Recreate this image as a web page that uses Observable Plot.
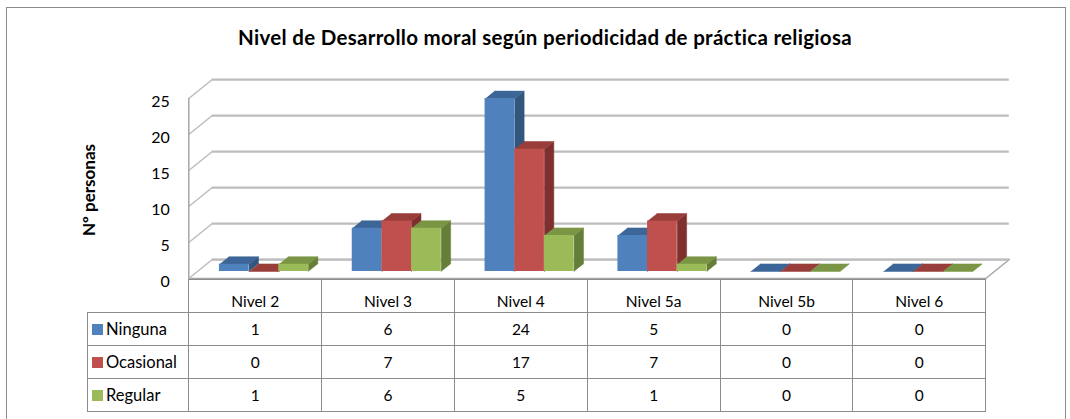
<!DOCTYPE html>
<html>
<head>
<meta charset="utf-8">
<script src="https://cdn.jsdelivr.net/npm/d3@7"></script>
<script src="https://cdn.jsdelivr.net/npm/@observablehq/plot@0.6"></script>
<style>
  html, body { margin: 0; padding: 0; background: #fff; }
  #wrap { position: relative; width: 1070px; height: 419px; overflow: hidden; background: #fff; font-family: Lato, "Open Sans", sans-serif; color: #000; }
  #border { position: absolute; left: 6px; top: 7px; width: 1060px; height: 430px; border: 1px solid #8c8c8c; box-sizing: border-box; }
  #title { position: absolute; left: 0; width: 1090px; top: 25px; text-align: center; font-weight: bold; font-size: 20.5px; letter-spacing: 0.3px; white-space: nowrap; }
  #ytitle { position: absolute; left: 88px; top: 190px; transform: translate(-50%, -50%) rotate(-90deg); font-weight: bold; font-size: 17px; white-space: nowrap; }
  #chart { position: absolute; left: 0; top: 0; }
  #chart svg { overflow: visible; background: transparent; }
  #tbl { position: absolute; top: 279px; border-collapse: collapse; table-layout: fixed; font-size: 15.5px; }
  #tbl td { border: 1px solid #8c8c8c; text-align: center; padding: 0; white-space: nowrap; }
  #tbl tr.hdr td { height: 33px; vertical-align: bottom; padding-bottom: 2px; box-sizing: border-box; }
  #tbl tr.hdr td.blank { border: none; }
  #tbl tr.row td { height: 32px; }
  #tbl td.lab { text-align: left; font-size: 16.5px; padding-left: 4px; }
  .sw { display: inline-block; width: 11px; height: 11px; margin-right: 3px; vertical-align: 0px; }
</style>
</head>
<body>
<div id="wrap">
  <div id="border"></div>
  <div id="title">Nivel de Desarrollo moral según periodicidad de práctica religiosa</div>
  <div id="ytitle">Nº personas</div>
  <div id="chart"></div>
  <table id="tbl"></table>
</div>
<script>
// ---- data ----
const categories = ["Nivel 2", "Nivel 3", "Nivel 4", "Nivel 5a", "Nivel 5b", "Nivel 6"];
const seriesNames = ["Ninguna", "Ocasional", "Regular"];
const ninguna = [1, 6, 24, 5, 0, 0];
const ocasional = [0, 7, 17, 7, 0, 0];
const regular = [1, 6, 5, 1, 0, 0];
const yTicks = [0, 5, 10, 15, 20, 25];

// ---- styling / geometry ----
const seriesValues = [ninguna, ocasional, regular];
const frontColors = ["#4F81BD", "#C0504D", "#9BBB59"];
const topColors = ["#3D6698", "#983D3A", "#7A9644"];
const sideColors = ["#33567F", "#7F302E", "#667F38"];
const X_RANGE = [197, 994];
const Y_RANGE = [271, 91];
const ux = categories.length / (X_RANGE[1] - X_RANGE[0]);   // data units per px (x)
const uy = 25 / (Y_RANGE[0] - Y_RANGE[1]);                  // data units per px (y)
const DEPTH_PX = [23.5, -19];                               // front -> back wall
const FRONT_T = -0.37, BACK_T = 0.63, BAR_T = 0.4;
const offPx = t => [t * DEPTH_PX[0], t * DEPTH_PX[1]];
const offU = t => [t * DEPTH_PX[0] * ux, -t * DEPTH_PX[1] * uy];
const [fdx, fdy] = offPx(FRONT_T), [bdx, bdy] = offPx(BACK_T);
const [fux, fuy] = offU(FRONT_T), [bux, buy] = offU(BACK_T), [rux, ruy] = offU(BAR_T);
const GROUP = 0.67, BW = GROUP / 3;
const gridColor = "#bdbdbd", edgeColor = "#a6a6a6";

// floor polygon
const nC = categories.length;
const floor = [
  {x: 0 + fux, y: 0 + fuy}, {x: nC + fux, y: 0 + fuy},
  {x: nC + bux, y: 0 + buy}, {x: 0 + bux, y: 0 + buy}
];

const marks = [
  Plot.line(floor, {x: "x", y: "y", fill: "#fff", stroke: edgeColor, strokeWidth: 1.5}),
  Plot.ruleY(yTicks, {y: d => d, x1: 0, x2: nC, dx: bdx, dy: bdy, stroke: gridColor, strokeWidth: 2.2}),
  Plot.link(yTicks, {x1: fux, y1: d => d + fuy, x2: bux, y2: d => d + buy, stroke: gridColor, strokeWidth: 1.5}),
  Plot.ruleX([0], {y1: 0, y2: 25, dx: fdx, dy: fdy, stroke: edgeColor, strokeWidth: 1.5}),
  Plot.text(yTicks, {x: 0, y: d => d, text: d => String(d), textAnchor: "end", dx: fdx - 19, dy: fdy + 3, fontSize: 16, fill: "#000"})
];

seriesValues.forEach((vals, j) => {
  const fronts = [], sides = [], tops = [];
  vals.forEach((v, i) => {
    const x1 = i + (1 - GROUP) / 2 + j * BW, x2 = x1 + BW;
    fronts.push({x1, x2, y1: 0, y2: v});
    const id = categories[i];
    sides.push({id, x: x2, y: 0}, {id, x: x2, y: v}, {id, x: x2 + rux, y: v + ruy}, {id, x: x2 + rux, y: 0 + ruy});
    tops.push({id, x: x1, y: v}, {id, x: x2, y: v}, {id, x: x2 + rux, y: v + ruy}, {id, x: x1 + rux, y: v + ruy});
  });
  marks.push(
    Plot.line(sides, {x: "x", y: "y", z: "id", fill: sideColors[j], stroke: sideColors[j], strokeWidth: 0.5}),
    Plot.line(tops, {x: "x", y: "y", z: "id", fill: topColors[j], stroke: topColors[j], strokeWidth: 0.5}),
    Plot.rect(fronts, {x1: "x1", x2: "x2", y1: "y1", y2: "y2", fill: frontColors[j]})
  );
});

const plot = Plot.plot({
  width: 1070,
  height: 282,
  margin: 0,
  x: {type: "linear", domain: [0, nC], range: X_RANGE, axis: null},
  y: {type: "linear", domain: [0, 25], range: Y_RANGE, axis: null},
  style: {fontFamily: 'Lato, "Open Sans", sans-serif', background: "transparent", color: "#000"},
  marks
});
document.getElementById("chart").appendChild(plot);

// ---- data table aligned with the x scale (front plane) ----
const xs = plot.scale("x");
const edges = d3.range(nC + 1).map(i => xs.apply(i) + fdx);
const LABEL_LEFT = 87;
const tbl = document.getElementById("tbl");
tbl.style.left = LABEL_LEFT + "px";
const colg = document.createElement("colgroup");
const widths = [edges[0] - LABEL_LEFT].concat(d3.range(nC).map(i => edges[i + 1] - edges[i]));
widths.forEach(w => { const c = document.createElement("col"); c.style.width = w + "px"; colg.appendChild(c); });
tbl.appendChild(colg);
tbl.style.width = (edges[nC] - LABEL_LEFT) + "px";
const hdr = document.createElement("tr"); hdr.className = "hdr";
const blank = document.createElement("td"); blank.className = "blank"; hdr.appendChild(blank);
categories.forEach(c => { const td = document.createElement("td"); td.textContent = c; hdr.appendChild(td); });
tbl.appendChild(hdr);
seriesNames.forEach((name, j) => {
  const tr = document.createElement("tr"); tr.className = "row";
  const lab = document.createElement("td"); lab.className = "lab";
  const sw = document.createElement("span"); sw.className = "sw"; sw.style.background = frontColors[j];
  lab.appendChild(sw); lab.appendChild(document.createTextNode(name));
  tr.appendChild(lab);
  seriesValues[j].forEach(v => { const td = document.createElement("td"); td.textContent = v; tr.appendChild(td); });
  tbl.appendChild(tr);
});
</script>
</body>
</html>
